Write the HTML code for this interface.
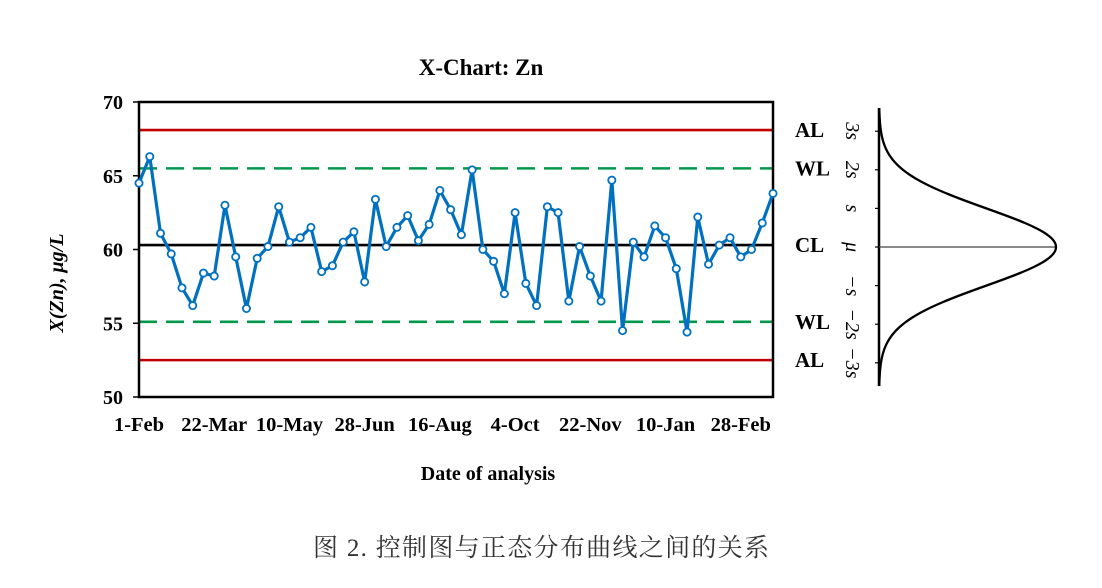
<!DOCTYPE html>
<html><head><meta charset="utf-8"><style>
body{margin:0;background:#fff;}
svg{display:block;font-family:"Liberation Serif","Noto Serif CJK SC",serif;}
</style></head><body>
<svg id="c" width="1102" height="588" viewBox="0 0 1102 588">
<text x="481" y="75" font-size="23" font-weight="bold" text-anchor="middle">X-Chart: Zn</text>
<text x="488" y="480" font-size="20" font-weight="bold" text-anchor="middle">Date of analysis</text>
<text transform="translate(63,283) rotate(-90)" font-size="20" font-weight="bold" font-style="italic" text-anchor="middle">X(Zn), μg/L</text>
<text x="541" y="556" font-size="25" fill="#333" text-anchor="middle" textLength="456" font-family="'Liberation Serif','Noto Serif CJK SC',serif">图 2. 控制图与正态分布曲线之间的关系</text>
<g id="plot"></g>
<g id="bell"></g>
</svg>
<script>
const values=[64.5,66.3,61.1,59.7,57.4,56.2,58.4,58.2,63.0,59.5,56.0,59.4,60.2,62.9,60.5,60.8,61.5,58.5,58.9,60.5,61.2,57.8,63.4,60.2,61.5,62.3,60.6,61.7,64.0,62.7,61.0,65.4,60.0,59.2,57.0,62.5,57.7,56.2,62.9,62.5,56.5,60.2,58.2,56.5,64.7,54.5,60.5,59.5,61.6,60.8,58.7,54.4,62.2,59.0,60.3,60.8,59.5,60.0,61.8,63.8];
const xLabels=["1-Feb","22-Mar","10-May","28-Jun","16-Aug","4-Oct","22-Nov","10-Jan","28-Feb"];
const yTicks=[50,55,60,65,70];
const limits=[{name:"AL",v:68.1,c:"#c00000",d:""},{name:"WL",v:65.5,c:"#00994c",d:"18,9"},{name:"CL",v:60.3,c:"#000",d:""},{name:"WL",v:55.1,c:"#00994c",d:"18,9"},{name:"AL",v:52.5,c:"#c00000",d:""}];
const sigmaLabels=["3s","2s","s","μ","−s","−2s","−3s"];
const sigmaK=[3,2,1,0,-1,-2,-3];
const NS="http://www.w3.org/2000/svg";
const X0=139,X1=773,Y0=102,Y1=397;
const sx=i=>X0+i*(X1-X0)/(values.length-1);
const sy=v=>Y1-(v-50)/20*(Y1-Y0);
const g=document.getElementById('plot');
function mk(t,a,p){const e=document.createElementNS(NS,t);for(const k in a)e.setAttribute(k,a[k]);(p||g).appendChild(e);return e;}
limits.forEach(l=>{const e=mk('line',{x1:X0,x2:X1,y1:sy(l.v),y2:sy(l.v),stroke:l.c,'stroke-width':2.6,'stroke-dasharray':l.d});


const t=mk('text',{x:795,y:sy(l.v)+7,'font-size':21,'font-weight':'bold'});t.textContent=l.name;

});
const fr=mk('rect',{x:X0,y:Y0,width:X1-X0,height:Y1-Y0,fill:'none',stroke:'#000','stroke-width':2.5});


yTicks.forEach(v=>{mk('line',{x1:X0-6,x2:X0,y1:sy(v),y2:sy(v),stroke:'#000','stroke-width':1.5});
const t=mk('text',{x:X0-16,y:sy(v)+7,'font-size':20,'font-weight':'bold','text-anchor':'end'});t.textContent=v;

});
xLabels.forEach((s,i)=>{const t=mk('text',{x:sx(i*7),y:431,'font-size':20.5,'font-weight':'bold','text-anchor':'middle'});t.textContent=s;

});
const pl=mk('polyline',{points:values.map((v,i)=>sx(i)+','+sy(v)).join(' '),fill:'none',stroke:'#0070c0','stroke-width':3.2,'stroke-linejoin':'round'});


values.forEach((v,i)=>{const c=mk('circle',{cx:sx(i),cy:sy(v),r:3.6,fill:'#fff',stroke:'#0070c0','stroke-width':1.8});

});
const b=document.getElementById('bell');
const AX=879,MU=247,SG=38.6,PK=177;
const ax=mk('line',{x1:AX,x2:AX,y1:108,y2:386,stroke:'#000','stroke-width':2.5},b);


const ml=mk('line',{x1:AX,x2:AX+PK,y1:MU,y2:MU,stroke:'#444','stroke-width':1.3},b);


let pts=[];for(let y=108;y<=386;y+=1){const z=(y-MU)/SG;pts.push((AX+PK*Math.exp(-z*z/2))+','+y);}
const bc=mk('polyline',{points:pts.join(' '),fill:'none',stroke:'#000','stroke-width':2.3},b);


sigmaK.forEach((k,i)=>{const y=MU-k*SG;mk('line',{x1:AX-4,x2:AX,y1:y,y2:y,stroke:'#000','stroke-width':1.2},b);
const t=mk('text',{transform:`translate(846,${y}) rotate(90)`,'font-size':20,'font-style':'italic','text-anchor':'middle'},b);t.textContent=sigmaLabels[i];

});
</script>
</body></html>
